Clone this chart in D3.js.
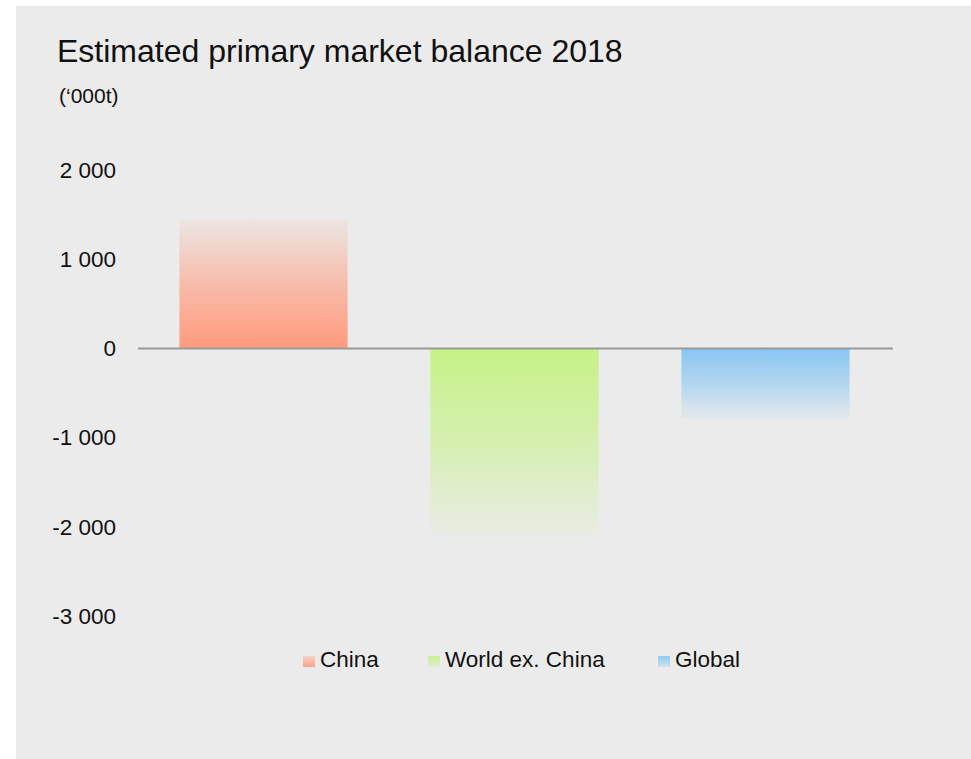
<!DOCTYPE html>
<style>
body { margin: 0; background: #fff; }
text { font-family: "Liberation Sans", Arial, Helvetica, sans-serif; }
.axis .domain, .axis line { display: none; }
</style>
<svg width="971" height="759"></svg>
<script src="https://d3js.org/d3.v7.min.js"></script>
<script>

var categories = ["China", "World ex. China", "Global"];
var values = [1450, -2090, -790];
var colors = ["#ff9a7c", "#c6f286", "#89c6f2"];
var tickValues = [2000, 1000, 0, -1000, -2000, -3000];

var svg = d3.select("svg");

svg.append("rect")
    .attr("x", 16).attr("y", 6)
    .attr("width", 955).attr("height", 753)
    .attr("fill", "#ebebeb");

svg.append("text")
    .attr("x", 57).attr("y", 62)
    .attr("font-size", 32)
    .attr("fill", "#111")
    .text("Estimated primary market balance 2018");

svg.append("text")
    .attr("x", 59).attr("y", 103)
    .attr("font-size", 21)
    .attr("fill", "#111")
    .text("(‘000t)");

var x = d3.scaleBand()
    .domain(categories)
    .range([138, 891])
    .paddingInner(0.33)
    .paddingOuter(0.165);

var y = d3.scaleLinear()
    .domain([-3000, 2000])
    .range([616, 170]);

var fmt = d3.formatLocale({decimal: ".", thousands: " ", grouping: [3], currency: ["", ""], minus: "-"}).format(",d");

var defs = svg.append("defs");

categories.forEach(function(c, i) {
  var up = values[i] >= 0;
  var grad = defs.append("linearGradient")
      .attr("id", "g" + i)
      .attr("x1", 0).attr("x2", 0)
      .attr("y1", up ? 1 : 0).attr("y2", up ? 0 : 1);
  grad.append("stop").attr("offset", 0).attr("stop-color", colors[i]).attr("stop-opacity", 1);
  grad.append("stop").attr("offset", 0.5).attr("stop-color", colors[i]).attr("stop-opacity", 0.58);
  grad.append("stop").attr("offset", 1).attr("stop-color", colors[i]).attr("stop-opacity", 0.06);
});

svg.append("g")
  .selectAll("rect")
  .data(values)
  .enter().append("rect")
    .attr("x", function(d, i) { return x(categories[i]); })
    .attr("y", function(d) { return y(Math.max(0, d)); })
    .attr("width", x.bandwidth())
    .attr("height", function(d) { return Math.abs(y(d) - y(0)); })
    .attr("fill", function(d, i) { return "url(#g" + i + ")"; });

svg.append("line")
    .attr("x1", 138).attr("x2", 893)
    .attr("y1", y(0)).attr("y2", y(0))
    .attr("stroke", "#999")
    .attr("stroke-width", 2);

svg.append("g")
    .attr("class", "axis")
    .attr("transform", "translate(126,0)")
    .call(d3.axisLeft(y).tickValues(tickValues).tickFormat(fmt).tickSize(0).tickPadding(10))
    .selectAll("text")
      .attr("font-size", 22.5)
      .attr("fill", "#111")
      .attr("font-family", "Liberation Sans, Arial, sans-serif");

var legendX = [303, 428, 658];

categories.forEach(function(c, i) {
  var grad = defs.append("linearGradient")
      .attr("id", "lg" + i)
      .attr("x1", 0).attr("x2", 0)
      .attr("y1", values[i] >= 0 ? 1 : 0).attr("y2", values[i] >= 0 ? 0 : 1);
  grad.append("stop").attr("offset", 0).attr("stop-color", colors[i]).attr("stop-opacity", 0.9);
  grad.append("stop").attr("offset", 1).attr("stop-color", colors[i]).attr("stop-opacity", 0.3);
});

var legend = svg.append("g")
  .selectAll("g")
  .data(categories)
  .enter().append("g")
    .attr("transform", function(d, i) { return "translate(" + legendX[i] + ",656)"; });

legend.append("rect")
    .attr("width", 12)
    .attr("height", 11)
    .attr("fill", function(d, i) { return "url(#lg" + i + ")"; });

legend.append("text")
    .attr("x", 17)
    .attr("y", 11)
    .attr("font-size", 22.5)
    .attr("fill", "#111")
    .text(function(d) { return d; });

</script>
